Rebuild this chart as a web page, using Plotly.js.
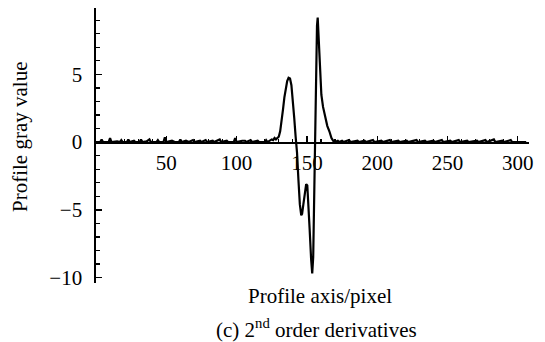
<!DOCTYPE html>
<html>
<head>
<meta charset="utf-8">
<script src="https://cdn.plot.ly/plotly-3.0.1.min.js"></script>
<style>html,body{margin:0;padding:0;background:#fff;}#chart{width:545px;height:342px;}</style>
</head>
<body>
<div id="chart"></div>
<script>
// Profile positions (pixel) and 2nd-order derivative values
var profileX = [0,3,4,5,9,10,11,15,17,18,19,22,23,24,27,28,31,32,33,36,38,39,43,44,45,48,49,50,54,56,59,60,61,64,66,69,70,74,75,78,79,83,84,88,89,93,94,98,99,100,104,106,107,110,111,115,116,120,121,122,125,126,127,128,129,130,
  131,132,133,134,135,136,137,138,139,140,141,142,143,144,145,146,146.6,147.5,148.5,149.5,150.3,151,152,153,153.8,154.5,155,155.8,156.5,157.2,157.7,158.3,158.8,159.5,160.3,161.5,163,164.5,166,167.5,169,170,
  172,173,175,176,180,181,186,187,191,192,197,198,203,204,209,210,215,216,221,222,228,229,234,235,240,241,246,247,252,253,258,259,264,265,271,272,277,278,283,284,289,290,295,296,300,306];
var profileY = [0,0,0.2,0,0,0.3,0,0.05,0,0.15,0,0,0.2,0,0.1,0,0,0.2,0,0.05,0.2,0,0,0.15,0,0,0.35,0,0.1,0,0,0.2,0,0.1,0,0.15,0,0.1,0,0.15,0,0.1,0,0.2,0,0.1,0,0,0.3,0,0.1,0.1,0,0.15,0,0.1,0,0,0.15,0,0.2,0.15,0.3,0.2,0.3,0.4,
  0.8,1.5,2.4,3.3,4.0,4.5,4.75,4.7,4.2,3.2,1.8,0.4,-0.8,-2.8,-4.6,-5.4,-5.3,-4.6,-3.6,-3.1,-3.2,-4.3,-6.5,-8.6,-9.7,-8.5,-5.5,0,5.5,8.6,9.2,8.0,6.5,5.0,3.5,2.6,1.8,1.2,0.8,0.3,0.05,0,
  0.1,0,0.1,0,0.15,0,0.1,0,0.1,0,0.15,0,0.1,0,0.15,0,0.1,0,0.1,0,0.15,0,0.1,0,0.1,0,0.15,0,0.1,0,0.15,0,0.1,0,0.1,0,0.15,0,0.2,0,0.1,0,0.15,0,0,0];
var xTickVals = [50,100,150,200,250,300];
var xMinorVals = [10,20,30,40,60,70,80,90,110,120,130,140,160,170,180,190,210,220,230,240,260,270,280,290];

var serif = 'Liberation Serif, Times New Roman, serif';
var yMin = -10.4, yMax = 9.9;

var trace = {
  x: profileX, y: profileY, type: 'scatter', mode: 'lines',
  line: {color: '#000', width: 2.2}, hoverinfo: 'skip'
};

var layout = {
  width: 545, height: 342,
  margin: {l: 96, r: 16, t: 8, b: 59, pad: 0},
  paper_bgcolor: '#fff', plot_bgcolor: '#fff',
  showlegend: false,
  xaxis: {
    range: [0, 308], anchor: 'free', position: (0 - yMin) / (yMax - yMin),
    showline: true, linecolor: '#000', linewidth: 1.6,
    showgrid: false, zeroline: false,
    tickmode: 'array', tickvals: xTickVals,
    ticks: 'inside', ticklen: 6, tickwidth: 1.3, tickcolor: '#000',
    tickfont: {family: serif, size: 21, color: '#000'},
    ticklabelstandoff: 1,
    minor: {tickmode: 'array', tickvals: xMinorVals, ticks: 'inside', ticklen: 3, tickwidth: 1.2, tickcolor: '#000', showgrid: false}
  },
  yaxis: {
    range: [yMin, yMax],
    showline: true, linecolor: '#000', linewidth: 1.6,
    showgrid: false, zeroline: false,
    tickmode: 'linear', tick0: 0, dtick: 5,
    ticks: 'inside', ticklen: 6, tickwidth: 1.3, tickcolor: '#000',
    tickfont: {family: serif, size: 21, color: '#000'},
    ticklabelstandoff: 8,
    minor: {tickmode: 'linear', tick0: 0, dtick: 1, ticks: 'inside', ticklen: 3.5, tickwidth: 1.2, tickcolor: '#000', showgrid: false}
  },
  annotations: [
    {text: 'Profile axis/pixel', xref: 'paper', yref: 'paper', x: 0.517, y: -0.047, xanchor: 'center', yanchor: 'middle', showarrow: false, font: {family: serif, size: 21, color: '#000'}},
    {text: '(c) 2<sup>nd</sup> order derivatives', xref: 'paper', yref: 'paper', x: 0.51, y: -0.164, xanchor: 'center', yanchor: 'middle', showarrow: false, font: {family: serif, size: 21, color: '#000'}},
    {text: 'Profile gray value', xref: 'paper', yref: 'paper', x: -0.1755, y: 0.531, xanchor: 'center', yanchor: 'middle', textangle: -90, showarrow: false, font: {family: serif, size: 21, color: '#000'}}
  ]
};

Plotly.newPlot('chart', [trace], layout, {staticPlot: true, displayModeBar: false});
</script>
</body>
</html>
